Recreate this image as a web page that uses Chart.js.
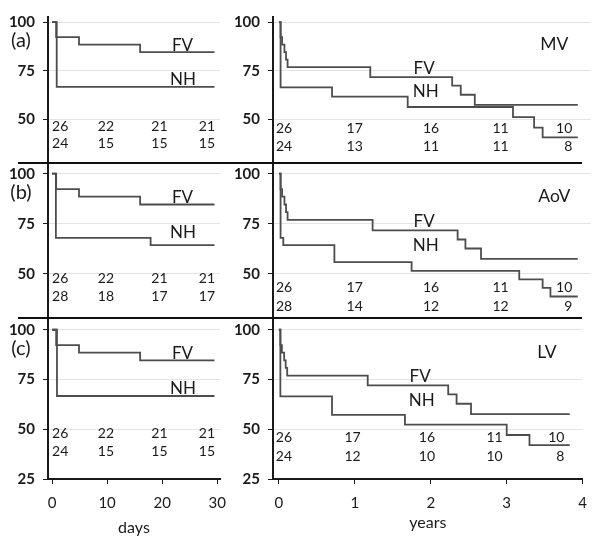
<!DOCTYPE html>
<html>
<head>
<meta charset="utf-8">
<script src="https://cdn.jsdelivr.net/npm/chart.js@4.4.1/dist/chart.umd.min.js"></script>
<style>
  html, body { margin: 0; padding: 0; background: #fff; }
  #wrap { position: relative; width: 597px; height: 537px; overflow: hidden; }
  #wrap canvas { position: absolute; left: 0; top: 0; }
  .sep { position: absolute; left: 18px; width: 564px; height: 2px; background: #111; }
</style>
</head>
<body>
<div id="wrap">
  <canvas id="a-days" width="597" height="537"></canvas>
  <canvas id="a-years" width="597" height="537"></canvas>
  <canvas id="b-days" width="597" height="537"></canvas>
  <canvas id="b-years" width="597" height="537"></canvas>
  <canvas id="c-days" width="597" height="537"></canvas>
  <canvas id="c-years" width="597" height="537"></canvas>
  <div class="sep" style="top:162px"></div>
  <div class="sep" style="top:317px"></div>
</div>
<script>
// Freedom from reoperation (%) – FV vs NH, short term (days) and long term (years)

const survTicks = [25, 50, 75, 100];
const dayTicks = [0, 10, 20, 30];
const yearTicks = [0, 1, 2, 3, 4];

// --- days (left column) ---
const fvDaysT = [0, 0.75, 4.9, 16, 29.5];
const fvDaysS = [100, 92.3, 88.5, 84.6, 84.6];
const mvNhDaysT = [0, 0.85, 29.5];
const mvNhDaysS = [100, 66.7, 66.7];
const aovNhDaysT = [0, 0.7, 17.9, 29.5];
const aovNhDaysS = [100, 67.9, 64.3, 64.3];
const lvNhDaysT = [0, 0.9, 29.5];
const lvNhDaysS = [100, 66.7, 66.7];

// --- years (right column) ---
const mvFvYrT = [0, 0.02, 0.04, 0.07, 0.09, 0.11, 1.17, 2.22, 2.33, 2.51, 3.83];
const mvFvYrS = [100, 92.3, 88.5, 84.6, 80.8, 76.9, 71.8, 67.4, 62.7, 57.5, 57.5];
const mvNhYrT = [0, 0.02, 0.68, 1.65, 3.0, 3.27, 3.38, 3.83];
const mvNhYrS = [100, 66.5, 61.7, 56.4, 51.2, 45.8, 40.8, 40.8];
const aovFvYrT = [0, 0.02, 0.04, 0.07, 0.09, 0.11, 1.2, 2.29, 2.39, 2.59, 3.83];
const aovFvYrS = [100, 92.3, 88.5, 84.6, 80.8, 76.9, 71.7, 67.1, 62.6, 57.4, 57.4];
const aovNhYrT = [0, 0.02, 0.055, 0.71, 1.7, 3.08, 3.38, 3.48, 3.83];
const aovNhYrS = [100, 67.9, 64.3, 55.8, 51.4, 47.2, 42.9, 38.6, 38.6];
const lvFvYrT = [0, 0.02, 0.04, 0.07, 0.09, 0.11, 1.17, 2.23, 2.34, 2.53, 3.83];
const lvFvYrS = [100, 92.3, 88.5, 84.6, 80.8, 76.9, 72.0, 67.5, 62.8, 57.6, 57.6];
const lvNhYrT = [0, 0.02, 0.7, 1.66, 3.0, 3.3, 3.83];
const lvNhYrS = [100, 66.5, 57.2, 52.3, 47.1, 42.0, 42.0];

// numbers at risk
const fvRiskDays = [26, 22, 21, 21];
const mvNhRiskDays = [24, 15, 15, 15];
const aovNhRiskDays = [28, 18, 17, 17];
const lvNhRiskDays = [24, 15, 15, 15];
const mvFvRiskYr = [26, 17, 16, 11, 10];
const mvNhRiskYr = [24, 13, 11, 11, 8];
const aovFvRiskYr = [26, 17, 16, 11, 10];
const aovNhRiskYr = [28, 14, 12, 12, 9];
const lvFvRiskYr = [26, 17, 16, 11, 10];
const lvNhRiskYr = [24, 12, 10, 10, 8];

// where the at-risk columns sit (first left aligned, last right aligned)
const riskColDays = [0, 9.8, 19.5, 29.6];
const riskColYears = [-0.04, 0.97, 1.95, 2.84, 3.76];

const ink = '#1a1a1a';
const curve = '#4d4d4d';
Chart.defaults.font.family = 'Lato, "Open Sans", sans-serif';
Chart.defaults.color = ink;

const pts = (t, s) => t.map((v, i) => ({ x: v, y: s[i] }));

// texte: FV/NH, nom du panneau, effectifs à risque
const annotate = {
  id: 'annotate',
  afterDatasetsDraw(chart, args, o) {
    const { ctx, scales: { x, y }, chartArea } = chart;
    ctx.save();
    ctx.fillStyle = ink;
    ctx.textBaseline = 'middle';
    ctx.textAlign = 'center';
    ctx.font = '17px Lato';
    ctx.fillText('FV', x.getPixelForValue(o.fvAt[0]), y.getPixelForValue(o.fvAt[1]));
    ctx.fillText('NH', x.getPixelForValue(o.nhAt[0]), y.getPixelForValue(o.nhAt[1]));
    if (o.name) {
      ctx.font = '17.5px Lato';
      ctx.fillText(o.name, x.getPixelForValue(o.nameAt[0]), y.getPixelForValue(o.nameAt[1]));
    }
    if (o.letter) {
      ctx.font = '20px Lato';
      ctx.fillText(o.letter, chartArea.left - 27, y.getPixelForValue(90.8));
    }
    ctx.font = '14px Lato';
    [o.fvRisk, o.nhRisk].forEach((row, r) => {
      const py = y.getPixelForValue(o.riskRows[r]);
      row.forEach((n, i) => {
        ctx.textAlign = i === 0 ? 'left' : (i === row.length - 1 ? 'right' : 'center');
        ctx.fillText(String(n), x.getPixelForValue(o.riskCols[i]), py);
      });
    });
    ctx.restore();
  }
};

function panel(id, p) {
  const left = p.col === 'days';
  const showX = !!p.axisTitle;
  return new Chart(document.getElementById(id), {
    type: 'line',
    data: {
      datasets: [
        { data: pts(p.fvT, p.fvS) },
        { data: pts(p.nhT, p.nhS) }
      ]
    },
    options: {
      responsive: false,
      animation: false,
      events: [],
      layout: { padding: left
        ? { left: 0, right: 377, top: p.top, bottom: p.bottom }
        : { left: 222, right: 6, top: p.top, bottom: p.bottom } },
      elements: {
        point: { radius: 0 },
        line: { borderColor: curve, borderWidth: 1.8, stepped: 'before', fill: false, tension: 0 }
      },
      plugins: {
        legend: { display: false },
        tooltip: { enabled: false },
        annotate: {
          fvAt: left ? [23.7, 88] : [1.86, 76.3],
          nhAt: left ? [23.8, 70.5] : [1.88, 64.3],
          name: p.name, nameAt: [3.53, 88.5],
          letter: p.letter,
          fvRisk: p.fvRisk, nhRisk: p.nhRisk,
          riskRows: p.riskRows,
          riskCols: left ? riskColDays : riskColYears
        }
      },
      scales: {
        x: {
          type: 'linear',
          display: showX,
          min: left ? -0.73 : -0.077,
          max: left ? 30.5 : 4.0,
          afterBuildTicks: s => { s.ticks = (left ? dayTicks : yearTicks).map(v => ({ value: v })); },
          afterFit: s => { if (showX) s.height = 58; },
          border: { color: ink, width: 2 },
          grid: { drawOnChartArea: false, tickColor: ink, tickLength: 5 },
          ticks: { padding: 10, color: ink, font: { size: 15 } },
          title: {
            display: showX, text: p.axisTitle || '', color: ink,
            font: { size: 16 }, padding: { top: 0, bottom: left ? 0 : 4.5 }
          }
        },
        y: {
          min: p.yMin, max: p.yMax,
          afterBuildTicks: s => {
            s.ticks = survTicks.filter(v => v >= s.min && v <= s.max).map(v => ({ value: v }));
          },
          afterFit: s => { s.width = left ? 48 : 51; },
          border: { color: ink, width: 2 },
          grid: { color: '#e4e4e4', lineWidth: 1, tickColor: ink, tickLength: 5 },
          ticks: { padding: 8, color: ink, font: { size: 15, weight: 'bold' } }
        }
      }
    },
    plugins: [annotate]
  });
}

const rowA = { top: 13, bottom: 375, yMin: 28.15, yMax: 102.65 };
const rowB = { top: 162, bottom: 219, yMin: 27.85, yMax: 105.85 };
const rowC = { top: 318, bottom: 0, yMin: 25, yMax: 105.9 };

panel('a-days', { ...rowA, col: 'days', letter: '(a)', fvT: fvDaysT, fvS: fvDaysS, nhT: mvNhDaysT, nhS: mvNhDaysS,
  fvRisk: fvRiskDays, nhRisk: mvNhRiskDays, riskRows: [46.6, 37.6] });
panel('a-years', { ...rowA, col: 'years', name: 'MV', fvT: mvFvYrT, fvS: mvFvYrS, nhT: mvNhYrT, nhS: mvNhYrS,
  fvRisk: mvFvRiskYr, nhRisk: mvNhRiskYr, riskRows: [45.2, 36.2] });
panel('b-days', { ...rowB, col: 'days', letter: '(b)', fvT: fvDaysT, fvS: fvDaysS, nhT: aovNhDaysT, nhS: aovNhDaysS,
  fvRisk: fvRiskDays, nhRisk: aovNhRiskDays, riskRows: [47.8, 38.6] });
panel('b-years', { ...rowB, col: 'years', name: 'AoV', fvT: aovFvYrT, fvS: aovFvYrS, nhT: aovNhYrT, nhS: aovNhYrS,
  fvRisk: aovFvRiskYr, nhRisk: aovNhRiskYr, riskRows: [43.3, 33.8] });
panel('c-days', { ...rowC, col: 'days', letter: '(c)', axisTitle: 'days', fvT: fvDaysT, fvS: fvDaysS, nhT: lvNhDaysT, nhS: lvNhDaysS,
  fvRisk: fvRiskDays, nhRisk: lvNhRiskDays, riskRows: [48.1, 39] });
panel('c-years', { ...rowC, col: 'years', name: 'LV', axisTitle: 'years', fvT: lvFvYrT, fvS: lvFvYrS, nhT: lvNhYrT, nhS: lvNhYrS,
  fvRisk: lvFvRiskYr, nhRisk: lvNhRiskYr, riskRows: [46, 36.5] });
</script>
</body>
</html>
